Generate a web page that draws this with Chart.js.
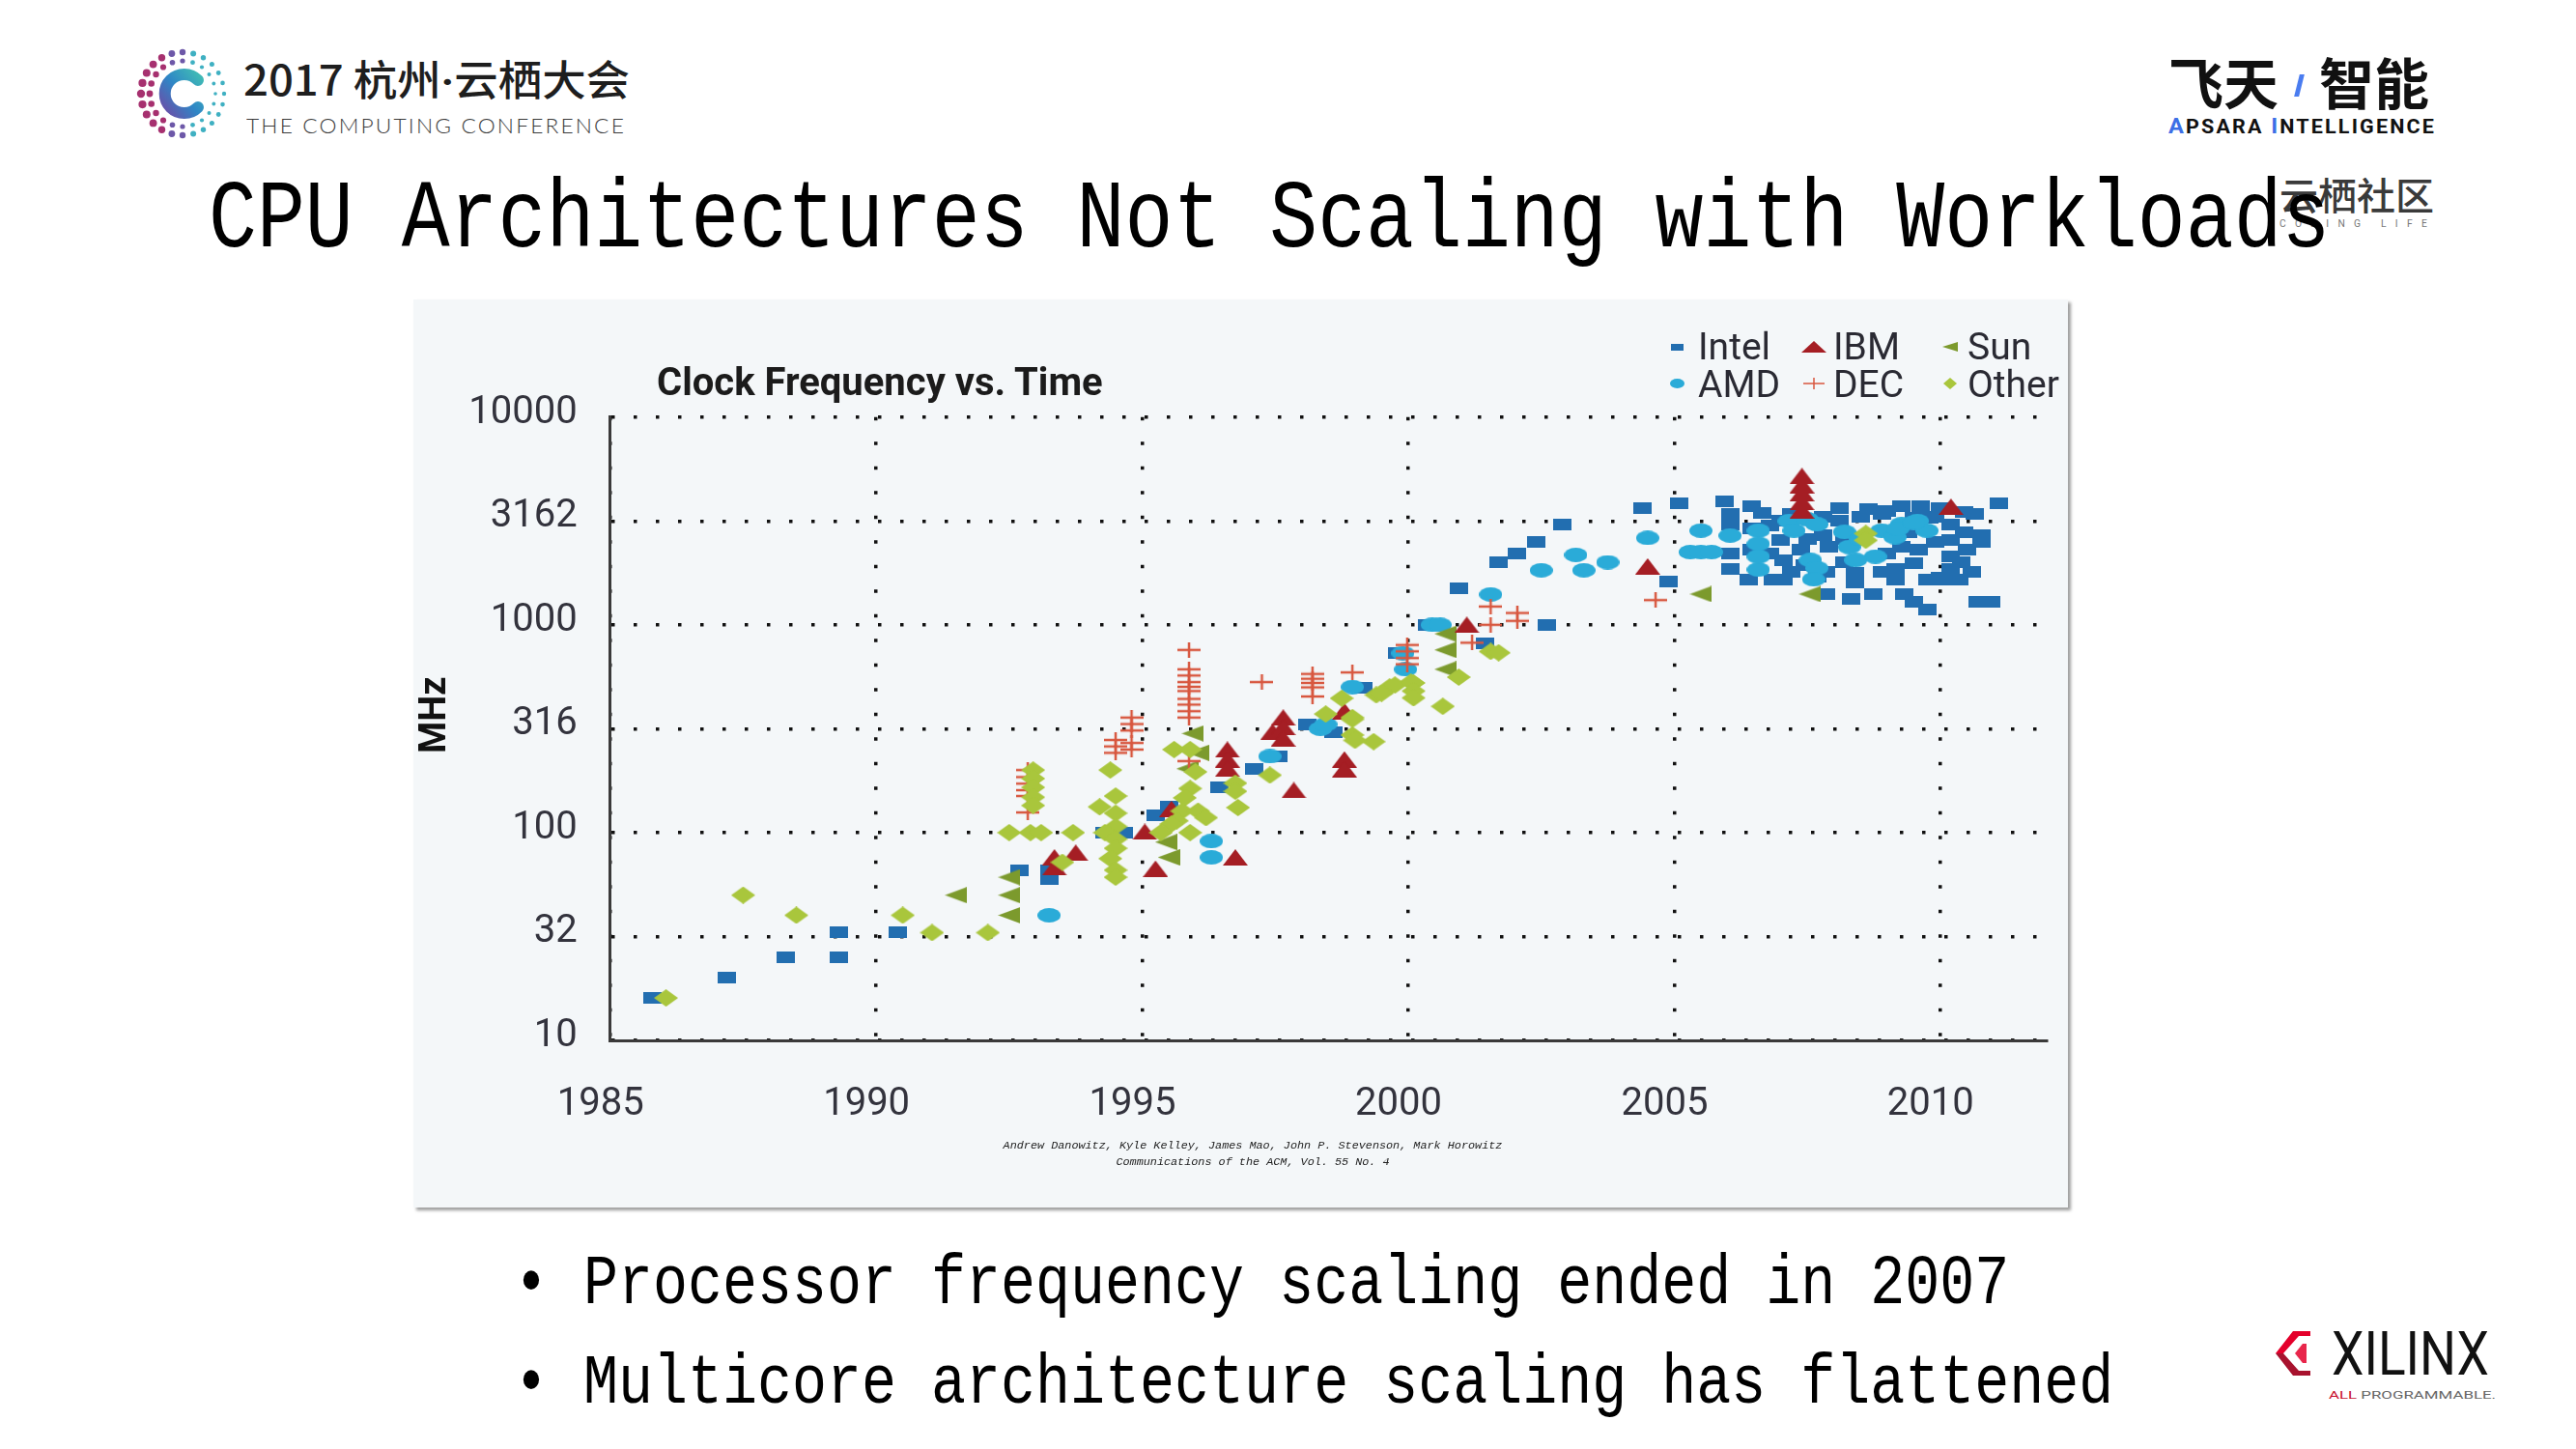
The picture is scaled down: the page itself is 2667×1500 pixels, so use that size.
<!DOCTYPE html>
<html>
<head>
<meta charset="utf-8">
<script src="https://cdn.jsdelivr.net/npm/chart.js@4.4.1/dist/chart.umd.min.js"></script>
<script>
// ---------------- DATA (year, MHz) ----------------
const X_TICKS = [1985, 1990, 1995, 2000, 2005, 2010];
const Y_TICK_VALUES = [10, 31.62, 100, 316.2, 1000, 3162, 10000];
const Y_TICK_LABELS = ['10', '32', '100', '316', '1000', '3162', '10000'];
const SERIES_NAMES = ['Intel', 'IBM', 'Sun', 'AMD', 'DEC', 'Other'];

const INTEL = [
  [1985.8,16],[1987.2,20],[1988.3,25],[1989.3,33],[1989.3,25],[1990.4,33],[1992.7,66],[1993.25,66],[1993.25,60],
  [1994.3,100],[1994.65,100],[1995.25,121],[1995.5,134],[1996.45,166],[1997.1,202],[1997.55,232],[1998.1,333],
  [1998.6,305],[1999.15,500],[1999.8,731],[2000.35,1000],[2000.95,1500],[2001.45,813],[2001.7,2000],[2002.05,2210],
  [2002.4,2500],[2002.6,1000],[2002.9,3040],[2004.4,3630],[2004.9,1610],[2005.1,3840],
  [2005.95,3925],[2006.05,3400],[2006.05,3050],[2006.05,2210],[2006.05,1850],[2006.45,3715],[2006.4,1656],
  [2006.65,3460],[2006.45,2900],[2006.45,2300],[2006.8,3000],[2006.8,2200],[2006.85,1656],
  [2007.0,3160],[2007.0,2550],[2007.05,2050],[2007.05,1656],[2007.2,3400],[2007.2,1800],[2007.38,2290],
  [2007.45,1945],[2007.5,2600],[2007.68,1700],[2007.8,3300],[2007.8,2700],[2007.86,1406],[2007.9,2370],[2007.85,1800],
  [2008.1,3650],[2008.1,3160],[2008.2,2600],[2008.2,2000],[2008.32,1334],[2008.4,1780],[2008.4,1600],[2008.5,3300],
  [2008.65,3590],[2008.75,1406],[2008.9,3400],[2008.9,1800],[2009.0,3520],[2009.0,2200],
  [2009.15,1850],[2009.15,1656],[2009.27,3715],[2009.27,2370],[2009.33,1406],[2009.4,2800],[2009.5,1286],
  [2009.5,1980],[2009.5,3280],[2009.6,2300],[2009.63,3715],[2009.75,1190],[2009.75,1656],[2009.8,3280],
  [2009.9,2500],[2009.9,3300],[2010.0,3650],[2010.0,1690],[2010.05,1656],[2010.2,3050],[2010.2,2550],
  [2010.2,2130],[2010.2,1850],[2010.35,1656],[2010.45,3500],[2010.45,2800],[2010.5,2300],[2010.4,2000],
  [2010.6,1800],[2010.65,3400],[2010.78,2690],[2010.78,2500],[2010.7,1290],[2010.95,1290],[2011.1,3855]
];
const IBM = [
  [1993.35,76],[1993.35,68],[1993.75,80],[1995.05,101],[1995.25,67],[1995.55,130],[1996.6,251],[1996.6,225],
  [1996.6,203],[1996.75,76],[1997.45,305],[1997.65,358],[1997.65,322],[1997.65,284],[1997.85,160],[1998.8,384],
  [1998.8,225],[1998.8,202],[2001.1,1000],[2004.5,1910],[2007.4,3550],[2007.4,3900],[2007.4,4300],[2007.4,4700],
  [2007.4,5200],[2010.2,3700]
];
const SUN = [
  [1991.5,50],[1992.5,61],[1992.5,50],[1992.5,40],[1995.45,90],[1995.5,76],[1995.95,300],[1996.05,242],
  [1995.85,203],[2000.7,905],[2000.7,757],[2000.7,611],[2005.5,1406],[2007.55,1406]
];
const AMD = [
  [1993.25,40],[1996.3,91],[1996.3,76],[1997.4,233],[1998.35,316],[1998.45,332],[1998.95,502],[1999.9,731],
  [1999.95,611],[2000.45,1000],[2000.6,1000],[2001.55,1400],[2002.5,1830],[2003.15,2170],[2003.3,1830],
  [2003.75,2000],[2004.5,2620],[2005.3,2240],[2005.5,2240],[2005.7,2240],[2005.5,2840],[2006.05,2690],
  [2006.58,2840],[2006.58,2455],[2006.58,2130],[2006.58,1845],[2007.16,3160],[2007.5,3220],[2007.68,3050],
  [2007.25,2840],[2007.56,2050],[2007.68,1876],[2007.62,1656],[2008.29,2370],[2008.2,2800],[2008.5,2600],
  [2008.78,2130],[2008.41,2050],[2008.9,2840],[2009.27,3050],[2009.57,3160],[2009.75,2840],[2009.15,2640],
  [2009.2,2900],[2009.5,3100]
];
const DEC = [
  [1992.85,125],[1992.85,150],[1992.85,160],[1992.85,172],[1992.85,185],[1992.85,200],
  [1994.5,242],[1994.5,260],[1994.5,279],[1994.8,251],[1994.8,270],[1994.8,310],[1994.8,333],[1994.8,358],
  [1995.88,221],[1995.88,358],[1995.88,384],[1995.88,413],[1995.88,440],[1995.88,480],[1995.88,503],
  [1995.88,530],[1995.88,570],[1995.88,611],[1995.88,757],
  [1997.25,530],[1998.2,452],[1998.2,500],[1998.2,525],[1998.2,550],[1998.2,580],[1998.95,590],
  [1999.98,646],[1999.98,692],[1999.98,745],[1999.98,800],[2001.2,820],[2001.55,1000],[2001.55,1225],
  [2002.05,1045],[2002.05,1140],[2004.65,1315]
];
const OTHER = [
  [1986.05,16],[1987.5,50],[1988.5,40],[1990.5,40],[1991.05,33],[1992.1,33],
  [1992.5,100],[1992.9,100],[1993.1,100],[1993.7,100],
  [1992.95,200],[1992.95,182],[1992.95,165],[1992.95,148],[1992.95,135],[1993.5,72],
  [1994.4,200],[1994.5,150],[1994.2,133],[1994.5,124],[1994.5,107],[1994.3,100],[1994.5,93],[1994.5,84],
  [1994.4,75],[1994.5,66],[1994.5,61],
  [1995.6,251],[1995.9,251],[1996.0,196],[1995.9,163],[1995.8,147],[1995.75,127],[1995.65,114],[1995.55,110],
  [1996.05,127],[1996.2,118],[1995.9,100],[1995.35,100],
  [1996.75,173],[1996.8,132],[1996.75,158],[1997.4,189],
  [1998.45,372],[1998.75,443],[1998.95,358],[1998.95,295],[1999.35,274],[1999.0,278],[1999.4,460],[1999.65,502],
  [2000.05,530],[1999.75,513],[1999.5,468],[1998.95,351],
  [2000.1,525],[2000.1,480],[2000.1,445],[2000.65,405],[2000.95,560],[2001.55,744],[2001.7,734],
  [2008.6,2750],[2008.6,2550]
];
const SERIES_POINTS = {Intel: INTEL, IBM: IBM, Sun: SUN, AMD: AMD, DEC: DEC, Other: OTHER};
</script>
<style>
  html, body { margin: 0; padding: 0; background: #fff; }
  #page { position: relative; width: 2667px; height: 1500px; overflow: hidden; background: #fff; }
  .abs { position: absolute; white-space: nowrap; line-height: 1; }
  .mono { font-family: "Liberation Mono", "DejaVu Sans Mono", monospace; color: #000; }
  .cjk { font-family: "Noto Sans CJK SC", "Noto Sans", sans-serif; }
  #panel { position: absolute; left: 428px; top: 310px; width: 1713px; height: 940px;
           background: #f4f7f9; box-shadow: 3px 3px 3px rgba(0,0,0,0.38); }
  #chart { position: absolute; left: 0; top: 0; }
  .leg { position: absolute; white-space: nowrap; line-height: 1; font-family: Roboto, "Liberation Sans", sans-serif;
         font-size: 39px; color: #2a2a33; }
  .legmark { position: absolute; }
</style>
</head>
<body>
<div id="page">
  <svg id="logo" class="abs" style="left:139px;top:47px" width="100" height="100" viewBox="0 0 100 100"></svg>
  <div id="h1" class="abs cjk" style="left:252px;top:59px;font-size:43px;color:#1e1e1e;font-weight:500">2017 杭州<span style="font-family:Roboto,sans-serif;font-weight:700">·</span>云栖大会</div>
  <div id="h2" class="abs" style="left:255px;top:119px;font-family:Lato,Roboto,sans-serif;font-weight:300;font-size:21px;color:#3c3c3c;letter-spacing:2px">THE COMPUTING CONFERENCE</div>

  <div id="r1a" class="abs cjk" style="left:2245px;top:55px;font-size:57px;font-weight:700;color:#111">飞天</div>
  <div class="abs" style="left:2378px;top:77px;width:5px;height:23px;background:#4a7cf0;transform:skewX(-14deg)"></div>
  <div id="r1b" class="abs cjk" style="left:2401px;top:55px;font-size:57px;font-weight:700;color:#111">智能</div>
  <div id="r2" class="abs" style="left:2245px;top:120px;font-family:Roboto,sans-serif;font-weight:700;font-size:20px;color:#111;letter-spacing:2px"><span style="color:#3d6fe6;font-size:22px">A</span>PSARA <span style="color:#3d6fe6;font-size:22px">I</span>NTELLIGENCE</div>
  <div id="r3" class="abs cjk" style="left:2360px;top:181px;font-size:39px;font-weight:500;color:#3a3a3a">云栖社区</div>
  <div id="r4" class="abs" style="left:2360px;top:227px;font-family:Roboto,sans-serif;font-size:10px;color:#777;letter-spacing:9px">CODING LIFE</div>

  <div id="title" class="abs mono" style="left:216px;top:192px;font-size:83.2px;transform-origin:0 63.8px;transform:scaleY(1.2)">CPU Architectures Not Scaling with Workloads</div>

  <div id="panel">
    <canvas id="chart" width="1713" height="940"></canvas>
    <div id="ctitle" class="abs" style="left:252px;top:66px;font-family:Roboto,'Liberation Sans',sans-serif;font-weight:700;font-size:40px;color:#1b1b1b">Clock Frequency vs. Time</div>
    <div id="legend"></div>
    <div id="cite" class="abs" style="left:369px;top:868px;width:1000px;text-align:center;font-family:'Liberation Mono',monospace;font-style:italic;font-size:11.8px;line-height:17px;color:#222;white-space:pre">Andrew Danowitz, Kyle Kelley, James Mao, John P. Stevenson, Mark Horowitz
Communications of the ACM, Vol. 55 No. 4</div>
  </div>

  <div id="b1" class="abs mono" style="left:532px;top:1303px;font-size:60px;transform-origin:0 46px;transform:scaleY(1.2)">• Processor frequency scaling ended in 2007</div>
  <div id="b2" class="abs mono" style="left:532px;top:1406px;font-size:60px;transform-origin:0 46px;transform:scaleY(1.2)">• Multicore architecture scaling has flattened</div>

  <svg class="abs" style="left:2350px;top:1378px" width="46" height="46" viewBox="0 0 46 46">
    <polygon points="42,0 24,0 6,23 14,23 30,5 42,5" fill="#e4002b"/>
    <polygon points="6,23 24,46 42,46 42,41 30,41 14,23" fill="#a8122e"/>
    <polygon points="26,23 34,13 38,13 38,33 34,33" fill="#e4002b" opacity="0.85"/>
  </svg>
  <div id="xl" class="abs" style="left:2414px;top:1370px;font-family:'Liberation Sans Narrow',Roboto,sans-serif;font-size:63px;color:#111">XILINX</div>
  <div id="xl2" class="abs" style="left:2411px;top:1440px;font-family:Roboto,sans-serif;font-size:10.5px;color:#666"><span style="color:#c8102e">ALL</span> PROGRAMMABLE.</div>
</div>

<script>
function hasFont(f) {
  const g = document.createElement('canvas').getContext('2d');
  const s = '0123456789 Intel AMD Other';
  g.font = '40px monospace'; const a = g.measureText(s).width;
  g.font = '40px "' + f + '", monospace'; const b = g.measureText(s).width;
  return Math.abs(a - b) > 0.5;
}
function fitW(id, w) {
  const el = document.getElementById(id);
  const r = el.getBoundingClientRect().width;
  el.style.transformOrigin = '0 0';
  el.style.transform = 'scaleX(' + (w / r) + ')';
}
function drawLogo() {
  const svg = document.getElementById('logo');
  let s = '<defs><linearGradient id="cg" x1="0" y1="1" x2="1" y2="0"><stop offset="0" stop-color="#6a4fa8"/><stop offset="0.5" stop-color="#2f86c6"/><stop offset="1" stop-color="#3fb8b6"/></linearGradient></defs>';
  const rings = [[43, 24, 3.2], [34, 20, 2.6]];
  rings.forEach(([r, n, rad]) => {
    for (let i = 0; i < n; i++) {
      const a = (i / n) * Math.PI * 2;
      const cx = 50 + r * Math.cos(a), cy = 50 + r * Math.sin(a);
      const t = (Math.cos(a) + 1) / 2;
      const col = t > 0.55 ? '#3fb0c2' : (t > 0.3 ? '#6d58a8' : '#a6306f');
      const rr = rad * (0.7 + 0.6 * (1 - t));
      s += '<circle cx="' + cx.toFixed(1) + '" cy="' + cy.toFixed(1) + '" r="' + rr.toFixed(1) + '" fill="' + col + '"/>';
    }
  });
  s += '<path d="M66,36 A20,20 0 1 0 66,64" fill="none" stroke="url(#cg)" stroke-width="12" stroke-linecap="round"/>';
  svg.innerHTML = s;
}
function marker(shape, w, h, color, lw) {
  const c = document.createElement('canvas'); c.width = w; c.height = h;
  const g = c.getContext('2d'); g.fillStyle = color; g.strokeStyle = color;
  g.beginPath();
  if (shape === 'rect') { g.fillRect(0, 0, w, h); }
  else if (shape === 'ellipse') { g.ellipse(w / 2, h / 2, w / 2, h / 2, 0, 0, Math.PI * 2); g.fill(); }
  else if (shape === 'triUp') { g.moveTo(0, h); g.lineTo(w / 2, 0); g.lineTo(w, h); g.closePath(); g.fill(); }
  else if (shape === 'triLeft') { g.moveTo(0, h / 2); g.lineTo(w, 0); g.lineTo(w, h); g.closePath(); g.fill(); }
  else if (shape === 'diamond') { g.moveTo(w / 2, 0); g.lineTo(w, h / 2); g.lineTo(w / 2, h); g.lineTo(0, h / 2); g.closePath(); g.fill(); }
  else if (shape === 'plus') { g.lineWidth = lw || 2; g.moveTo(0, h / 2); g.lineTo(w, h / 2); g.moveTo(w / 2, 0); g.lineTo(w / 2, h); g.stroke(); }
  return c;
}
const STYLE = {
  Intel: {color: '#226eb0', shape: 'rect',    w: 19, h: 12, lw: 13, lh: 7,  order: 5},
  IBM:   {color: '#a51e24', shape: 'triUp',   w: 26, h: 17, lw: 26, lh: 12, order: 1},
  Sun:   {color: '#7c9a2d', shape: 'triLeft', w: 23, h: 17, lw: 16, lh: 10, order: 3},
  AMD:   {color: '#2aabd8', shape: 'ellipse', w: 24, h: 15, lw: 15, lh: 10, order: 4},
  DEC:   {color: '#d8573f', shape: 'plus',    w: 24, h: 16, lw: 22, lh: 12, order: 2},
  Other: {color: '#a9c63c', shape: 'diamond', w: 25, h: 18, lw: 14, lh: 12, order: 0}
};
const LEG_TEXT_X = [1330, 1470, 1609];
const LEG_MARK_X = [1308, 1450, 1591];
const LEG_BASE_Y = [63, 102];
const LEG_MID_Y = [49, 87];

const htmlLegend = {
  id: 'htmlLegend',
  afterUpdate(chart) {
    const box = document.getElementById('legend');
    box.innerHTML = '';
    const items = chart.options.plugins.legend.labels.generateLabels(chart)
      .slice().sort((a, b) => a.datasetIndex - b.datasetIndex);
    items.forEach((item, i) => {
      const col = i % 3, row = Math.floor(i / 3);
      const st = STYLE[item.text];
      const m = marker(st.shape, st.lw, st.lh, st.color, 1.5);
      m.className = 'legmark';
      m.style.left = (LEG_MARK_X[col] - st.lw / 2) + 'px';
      m.style.top = (LEG_MID_Y[row] - st.lh / 2) + 'px';
      box.appendChild(m);
      const t = document.createElement('div');
      t.className = 'leg';
      t.textContent = item.text;
      t.style.left = LEG_TEXT_X[col] + 'px';
      t.style.top = (LEG_BASE_Y[row] - 32.8) + 'px';
      box.appendChild(t);
    });
  }
};

function build() {
  drawLogo();
  fitW('h1', 400); fitW('h2', 393); fitW('r2', 277); fitW('r3', 160); fitW('r4', 162);
  fitW('xl', 163); fitW('xl2', 173);

  const narrowOK = hasFont('Liberation Sans Narrow');
  const TICK_FONT = narrowOK ? {family: 'Liberation Sans Narrow', size: 43} : {family: 'Roboto', size: 40};

  const datasets = SERIES_NAMES.map(name => {
    const st = STYLE[name];
    return {
      label: name,
      data: SERIES_POINTS[name].map(p => ({x: p[0], y: p[1]})),
      pointStyle: marker(st.shape, st.w, st.h, st.color, 2.5),
      pointRadius: 9,
      backgroundColor: st.color,
      borderColor: st.color,
      order: st.order
    };
  });

  new Chart(document.getElementById('chart'), {
    type: 'scatter',
    data: {datasets},
    plugins: [htmlLegend],
    options: {
      responsive: false,
      animation: false,
      events: [],
      layout: {padding: {left: 0, top: 121.7, right: 22, bottom: 0}},
      plugins: {legend: {display: false}, tooltip: {enabled: false}},
      scales: {
        x: {
          type: 'linear', min: 1985, max: 2012,
          afterBuildTicks: s => { s.ticks = X_TICKS.map(v => ({value: v})); },
          afterFit: s => { s.height = 173; },
          ticks: {font: TICK_FONT, color: '#33333d', padding: 43, labelOffset: -10, autoSkip: false, maxRotation: 0,
                  callback: v => String(v)},
          grid: {color: '#111', lineWidth: 3.5, drawTicks: false},
          border: {display: true, color: '#3a3a3a', width: 3, dash: [3.5, 22]}
        },
        y: {
          type: 'logarithmic', min: 10, max: 10000,
          afterBuildTicks: s => { s.ticks = Y_TICK_VALUES.map(v => ({value: v})); },
          afterFit: s => { s.width = 203.7; },
          ticks: {font: TICK_FONT, color: '#33333d', padding: 34, labelOffset: -4, autoSkip: false,
                  callback: (v, i) => Y_TICK_LABELS[i]},
          grid: {color: '#111', lineWidth: 3.5, drawTicks: false},
          border: {display: true, color: '#3a3a3a', width: 3, dash: [3.5, 19.5]},
          title: {display: true, text: '   MHz', color: '#111', padding: {top: 1, bottom: 0},
                  font: {family: 'Roboto', weight: 'bold', size: 38}}
        }
      }
    }
  });
}
build();
</script>
</body>
</html>
